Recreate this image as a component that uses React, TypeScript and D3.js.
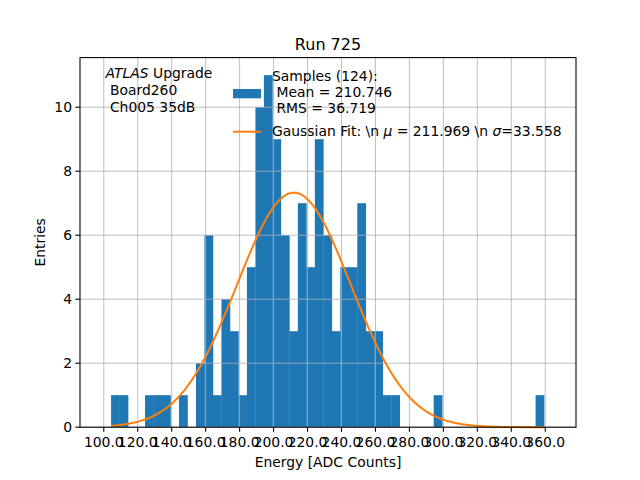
import { useEffect, useRef } from 'react';
import * as d3 from 'd3';

// histogram bins: left edge of first bin, bin width and counts per bin
const binStart = 104.3;
const binWidth = 5;
const counts = [
  1, 1, 0, 0, 1, 1, 1, 0, 1, 0,
  2, 6, 1, 4, 3, 1, 5, 10, 11, 9,
  6, 3, 7, 5, 9, 6, 3, 5, 5, 7,
  3, 3, 1, 1, 0, 0, 0, 0, 1, 0,
  0, 0, 0, 0, 0, 0, 0, 0, 0, 0,
  1,
];

// gaussian fit parameters
const fitMu = 211.969;
const fitSigma = 33.558;
const fitAmp = 7.33;

const xTicks = [100, 120, 140, 160, 180, 200, 220, 240, 260, 280, 300, 320, 340, 360];
const yTicks = [0, 2, 4, 6, 8, 10];

const infoLines = ['Board260', 'Ch005 35dB'];
const sampleLines = ['Samples (124):', ' Mean = 210.746', ' RMS = 36.719'];

const nb = (s: string) => s.replace(/ /g, '\u00a0');

const App = () => {
  const svgRef = useRef<SVGSVGElement>(null);

  useEffect(() => {
    document.body.style.margin = '0';
    if (!svgRef.current) return;

    const svg = d3.select(svgRef.current);
    svg.selectAll('*').remove();

    const width = 640;
    const height = 480;
    const left = 80;
    const right = 576;
    const top = 57.6;
    const bottom = 427.2;
    const font = 'DejaVu Sans, sans-serif';
    const fs = '13.9px';

    const x = d3.scaleLinear().domain([86.0, 378.1]).range([left, right]);
    const y = d3.scaleLinear().domain([0, 11.55]).range([bottom, top]);

    svg.append('rect').attr('width', width).attr('height', height).attr('fill', 'white');

    // bars
    const bins = counts.map((c, i) => ({
      x0: binStart + i * binWidth,
      x1: binStart + (i + 1) * binWidth,
      c,
    }));
    svg.append('g')
      .selectAll('rect')
      .data(bins.filter(b => b.c > 0))
      .join('rect')
      .attr('x', d => x(d.x0))
      .attr('y', d => y(d.c))
      .attr('width', d => x(d.x1) - x(d.x0) + 0.3)
      .attr('height', d => y(0) - y(d.c))
      .attr('fill', '#1f77b4');

    // grid (above bars, below line)
    const grid = svg.append('g').attr('stroke', '#b0b0b0').attr('stroke-width', 0.8);
    xTicks.forEach(t => {
      grid.append('line')
        .attr('x1', x(t)).attr('x2', x(t))
        .attr('y1', top).attr('y2', bottom);
    });
    yTicks.forEach(t => {
      grid.append('line')
        .attr('x1', left).attr('x2', right)
        .attr('y1', y(t)).attr('y2', y(t));
    });

    // gaussian fit line
    const xs = d3.range(binStart, binStart + counts.length * binWidth + 0.01, 0.5);
    const gauss = (v: number) => fitAmp * Math.exp(-((v - fitMu) ** 2) / (2 * fitSigma * fitSigma));
    const line = d3.line<number>().x(v => x(v)).y(v => y(gauss(v)));
    svg.append('path')
      .attr('d', line(xs))
      .attr('fill', 'none')
      .attr('stroke', '#ff7f0e')
      .attr('stroke-width', 2);

    // spines
    svg.append('rect')
      .attr('x', left).attr('y', top)
      .attr('width', right - left).attr('height', bottom - top)
      .attr('fill', 'none')
      .attr('stroke', 'black')
      .attr('stroke-width', 1.07);

    // ticks
    const tickG = svg.append('g').attr('font-family', font).attr('font-size', fs);
    xTicks.forEach(t => {
      tickG.append('line')
        .attr('x1', x(t)).attr('x2', x(t))
        .attr('y1', bottom).attr('y2', bottom + 4.67)
        .attr('stroke', 'black').attr('stroke-width', 1.07);
      tickG.append('text')
        .attr('x', x(t)).attr('y', bottom + 19.5)
        .attr('text-anchor', 'middle')
        .text(t.toFixed(1));
    });
    yTicks.forEach(t => {
      tickG.append('line')
        .attr('x1', left - 4.67).attr('x2', left)
        .attr('y1', y(t)).attr('y2', y(t))
        .attr('stroke', 'black').attr('stroke-width', 1.07);
      tickG.append('text')
        .attr('x', left - 8).attr('y', y(t))
        .attr('text-anchor', 'end')
        .attr('dominant-baseline', 'central')
        .text(String(t));
    });

    // labels
    svg.append('text')
      .attr('x', (left + right) / 2).attr('y', 467)
      .attr('text-anchor', 'middle')
      .attr('font-family', font).attr('font-size', fs)
      .text('Energy [ADC Counts]');
    svg.append('text')
      .attr('transform', `translate(45,${(top + bottom) / 2}) rotate(-90)`)
      .attr('text-anchor', 'middle')
      .attr('font-family', font).attr('font-size', fs)
      .text('Entries');
    svg.append('text')
      .attr('x', (left + right) / 2).attr('y', 50)
      .attr('text-anchor', 'middle')
      .attr('font-family', font).attr('font-size', '16px')
      .text('Run 725');

    // info text
    const info = svg.append('text')
      .attr('font-family', font).attr('font-size', fs);
    const first = info.append('tspan').attr('x', 105.5).attr('y', 78.3);
    first.append('tspan').attr('font-style', 'italic').text('ATLAS');
    first.append('tspan').text(nb(' Upgrade'));
    infoLines.forEach((s, i) => {
      info.append('tspan')
        .attr('x', 105.5).attr('y', 95.2 + i * 16.9)
        .text(nb(' ' + s));
    });

    // legend (no frame)
    svg.append('rect')
      .attr('x', 233).attr('y', 89)
      .attr('width', 28).attr('height', 9.3)
      .attr('fill', '#1f77b4');
    svg.append('line')
      .attr('x1', 233).attr('x2', 261)
      .attr('y1', 131.7).attr('y2', 131.7)
      .attr('stroke', '#ff7f0e').attr('stroke-width', 2);
    const leg = svg.append('text')
      .attr('font-family', font).attr('font-size', fs);
    sampleLines.forEach((s, i) => {
      leg.append('tspan')
        .attr('x', 272).attr('y', 80.7 + i * 16.3)
        .text(nb(s));
    });
    const g2 = svg.append('text')
      .attr('x', 272).attr('y', 136)
      .attr('font-family', font).attr('font-size', fs);
    g2.append('tspan').text(nb('Gaussian Fit: \\n '));
    g2.append('tspan').attr('font-style', 'italic').text('\u03bc');
    g2.append('tspan').text(nb(` = ${fitMu.toFixed(3)} \\n `));
    g2.append('tspan').attr('font-style', 'italic').text('\u03c3');
    g2.append('tspan').text(nb(`=${fitSigma.toFixed(3)}`));
  }, []);

  return <svg ref={svgRef} width="640" height="480" style={{ display: 'block' }} />;
};

export default App;
